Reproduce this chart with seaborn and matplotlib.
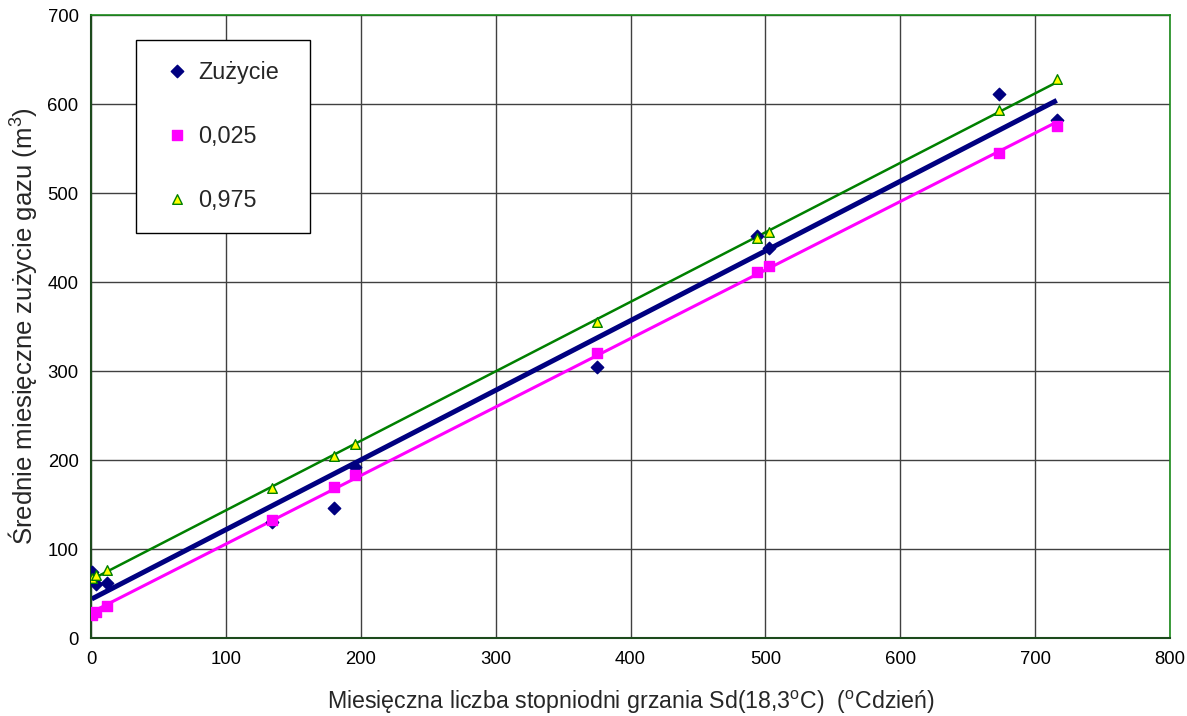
import matplotlib
matplotlib.use("Agg")
import matplotlib.pyplot as plt
import numpy as np
import pandas as pd
import seaborn as sns

# values
degree_days = [0.5, 4, 11.5, 134, 180, 196, 375, 494, 503, 673, 716]
usage = [74, 61, 62, 130, 146, 192, 304, 452, 438, 611, 582]
lower_025 = [26, 29, 35.5, 133, 169.5, 183, 320, 411, 418.5, 545, 575]
upper_975 = [67, 71, 76.5, 168.5, 204, 218, 355, 449, 456, 593, 628]
series_names = ["Zużycie", "0,025", "0,975"]
x_ticks = list(range(0, 801, 100))
y_ticks = list(range(0, 701, 100))

sns.set_style("white")
plt.rcParams["font.family"] = ["Liberation Sans", "DejaVu Sans"]
plt.rcParams["mathtext.fontset"] = "custom"
plt.rcParams["mathtext.rm"] = "Liberation Sans"
plt.rcParams["mathtext.it"] = "Liberation Sans:italic"

data = pd.DataFrame({"x": degree_days, "usage": usage,
                     "lower": lower_025, "upper": upper_975})

fig = plt.figure(figsize=(11.87, 7.16), dpi=100)
ax = fig.add_axes([0.0767, 0.1089, 0.909, 0.8701])

# (column, label, colour, marker, face, trend width, marker size)
styles = [
    ("usage", series_names[0], "#000080", "D", "#000080", 3.6, 40),
    ("lower", series_names[1], "#ff00ff", "s", "#ff00ff", 2.2, 45),
    ("upper", series_names[2], "#008000", "^", "#ffff00", 1.8, 48),
]

# trendlines first, markers on top
for col, label, color, marker, face, lw, size in styles:
    sns.regplot(data=data, x="x", y=col, ax=ax, scatter=False, ci=None,
                truncate=True, color=color,
                line_kws={"linewidth": lw, "zorder": 2, "solid_capstyle": "butt"})

handles = []
for col, label, color, marker, face, lw, size in styles:
    sns.scatterplot(data=data, x="x", y=col, ax=ax, marker=marker, s=size,
                    color=face, edgecolor=color, linewidth=1.0, zorder=3,
                    label=label, legend=False)
    handles.append(ax.collections[-1])

ax.set_xlim(0, 800)
ax.set_ylim(0, 700)
ax.set_xticks(x_ticks)
ax.set_yticks(y_ticks)
ax.grid(True, color="#404040", linewidth=1.0)
ax.set_axisbelow(True)
ax.tick_params(axis="both", direction="out", length=5, width=1,
               color="#404040", labelsize=13.3, labelcolor="black", pad=4)

for side in ["left", "bottom"]:
    ax.spines[side].set_color("#1c4a1c")
    ax.spines[side].set_linewidth(1.5)
for side in ["top", "right"]:
    ax.spines[side].set_color("#1a8a1a")
    ax.spines[side].set_linewidth(1.2)

ax.set_xlabel(r"Miesięczna liczba stopniodni grzania Sd(18,3$^{\mathrm{o}}$C)  ($^{\mathrm{o}}$Cdzień)",
              fontsize=16.7, labelpad=15)
ax.set_ylabel(r"Średnie miesięczne zużycie gazu (m$^{\mathrm{3}}$)", fontsize=18.5, labelpad=6)

leg = ax.legend(handles=handles, labels=series_names, loc="upper left",
                bbox_to_anchor=(0.0417, 0.96, 0.1613, 0.0), mode="expand",
                fontsize=16.8, frameon=True, fancybox=False, framealpha=1,
                edgecolor="black", borderpad=0.87, labelspacing=1.75,
                handlelength=1.8, handletextpad=0.0, handleheight=1.0,
                borderaxespad=0, scatterpoints=1)
leg.get_frame().set_linewidth(1.0)

fig.savefig("out.png", dpi=100)
